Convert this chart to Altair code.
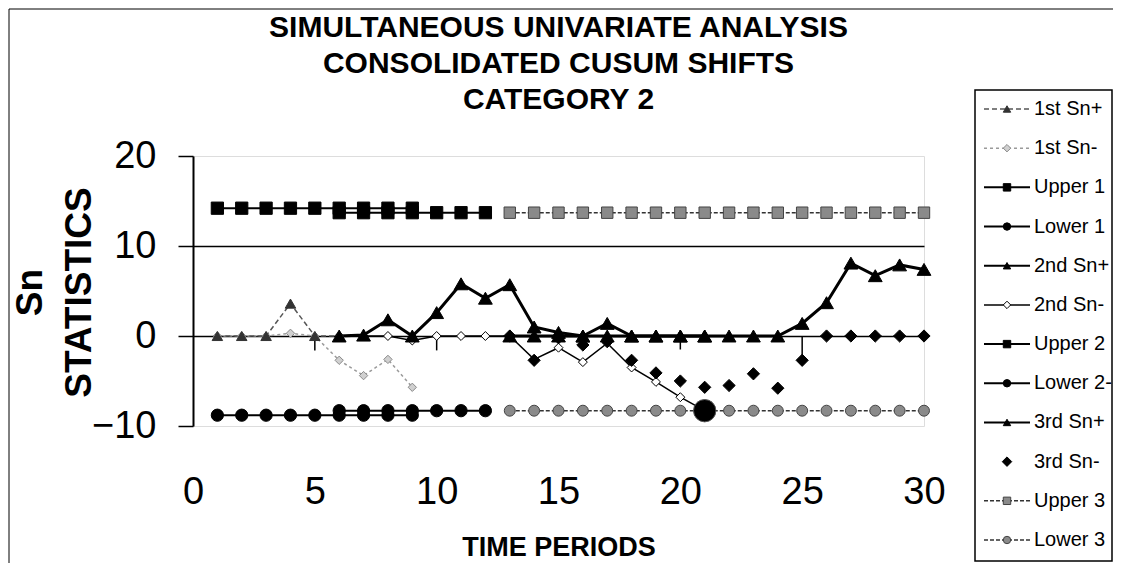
import altair as alt
import pandas as pd

# ------------------------------------------------------------------ data
series_names = ["1st Sn+", "1st Sn-", "Upper 1", "Lower 1", "2nd Sn+", "2nd Sn-",
                "Upper 2", "Lower 2-", "3rd Sn+", "3rd Sn-", "Upper 3", "Lower 3"]

periods_1 = [1, 2, 3, 4, 5, 6, 7, 8, 9]
sn1_plus = [0, 0, 0, 3.6, 0, 0, 0.1, 1.8, 0]
sn1_minus = [0, 0, 0, 0.3, 0, -2.7, -4.4, -2.6, -5.7]
upper_1 = [14.2, 14.2, 14.2, 14.2, 14.2, 14.2, 14.2, 14.2, 14.2]
lower_1 = [-8.8, -8.8, -8.8, -8.8, -8.8, -8.8, -8.8, -8.8, -8.8]

periods_2 = [6, 7, 8, 9, 10, 11, 12, 13, 14, 15, 16, 17, 18, 19, 20, 21]
sn2_plus = [0, 0.1, 1.8, 0, 2.6, 5.8, 4.2, 5.7, 1.0, 0.4, 0, 1.4, 0, 0, 0, 0]
sn2_minus = [0, 0, 0, -0.5, 0, 0, 0, 0, -2.6, -1.3, -2.9, -0.8, -3.5, -5.1, -6.8, -8.3]
periods_2_limits = [6, 7, 8, 9, 10, 11, 12]
upper_2 = [13.7, 13.7, 13.7, 13.7, 13.7, 13.7, 13.7]
lower_2 = [-8.3, -8.3, -8.3, -8.3, -8.3, -8.3, -8.3]

periods_3 = [13, 14, 15, 16, 17, 18, 19, 20, 21, 22, 23, 24, 25, 26, 27, 28, 29, 30]
sn3_plus = [0, 0, 0, 0, 0, 0, 0, 0, 0, 0, 0, 0, 1.4, 3.7, 8.1, 6.7, 7.9, 7.4]
sn3_minus = [0, -2.7, -0.2, -1.0, -0.6, -2.7, -4.1, -5.0, -5.7, -5.5, -4.2, -5.8, -2.7, 0, 0, 0, 0, 0]
upper_3 = [13.7, 13.7, 13.7, 13.7, 13.7, 13.7, 13.7, 13.7, 13.7,
           13.7, 13.7, 13.7, 13.7, 13.7, 13.7, 13.7, 13.7, 13.7]
lower_3 = [-8.3, -8.3, -8.3, -8.3, -8.3, -8.3, -8.3, -8.3, -8.3,
           -8.3, -8.3, -8.3, -8.3, -8.3, -8.3, -8.3, -8.3, -8.3]

signal_period = [21]
signal_value = [-8.3]

drop_periods = [5, 10, 20, 25]
drop_top = [0, 0, 0, 0]
drop_bottom = [-1.6, -1.6, -1.5, -2.5]

x_ticks = [0, 5, 10, 15, 20, 25, 30]
y_ticks = [-10, 0, 10, 20]

series_data = {
    "1st Sn+": (periods_1, sn1_plus),
    "1st Sn-": (periods_1, sn1_minus),
    "Upper 1": (periods_1, upper_1),
    "Lower 1": (periods_1, lower_1),
    "2nd Sn+": (periods_2, sn2_plus),
    "2nd Sn-": (periods_2, sn2_minus),
    "Upper 2": (periods_2_limits, upper_2),
    "Lower 2-": (periods_2_limits, lower_2),
    "3rd Sn+": (periods_3, sn3_plus),
    "3rd Sn-": (periods_3, sn3_minus),
    "Upper 3": (periods_3, upper_3),
    "Lower 3": (periods_3, lower_3),
}

# ------------------------------------------------------------------ styles
STY = {
    "1st Sn+": dict(line="#555555", width=1.5, dash=[5, 3], shape="triangle-up", fill="#333333", stroke="#333333", size=110),
    "1st Sn-": dict(line="#9a9a9a", width=1.5, dash=[3, 3], shape="diamond", fill="#d0d0d0", stroke="#8a8a8a", size=70),
    "Upper 1": dict(line="black", width=2, dash=None, shape="square", fill="black", stroke="black", size=150),
    "Lower 1": dict(line="black", width=2, dash=None, shape="circle", fill="black", stroke="black", size=150),
    "2nd Sn+": dict(line="black", width=3, dash=None, shape="triangle-up", fill="black", stroke="black", size=190),
    "2nd Sn-": dict(line="black", width=1.5, dash=None, shape="diamond", fill="white", stroke="black", size=80),
    "Upper 2": dict(line="black", width=2, dash=None, shape="square", fill="black", stroke="black", size=150),
    "Lower 2-": dict(line="black", width=2, dash=None, shape="circle", fill="black", stroke="black", size=150),
    "3rd Sn+": dict(line="black", width=3, dash=None, shape="triangle-up", fill="black", stroke="black", size=190),
    "3rd Sn-": dict(line=None, width=0, dash=None, shape="diamond", fill="black", stroke="black", size=150),
    "Upper 3": dict(line="#333333", width=1.5, dash=[4, 2], shape="square", fill="#8a8a8a", stroke="#444444", size=130),
    "Lower 3": dict(line="#333333", width=1.5, dash=[4, 2], shape="circle", fill="#8a8a8a", stroke="#444444", size=120),
}
draw_order = ["1st Sn-", "1st Sn+", "Upper 3", "Lower 3", "Upper 1", "Lower 1", "Upper 2",
              "Lower 2-", "2nd Sn-", "2nd Sn+", "3rd Sn+", "3rd Sn-"]

FONT = "Liberation Sans, Arial, Helvetica, sans-serif"

# ------------------------------------------------------------------ scales / axes
x_axis = alt.Axis(values=x_ticks, title="TIME PERIODS", ticks=False, domain=False, grid=False,
                  labelFont=FONT, labelFontSize=38, labelColor="black", labelPadding=47,
                  labelFlush=False, labelOverlap=False,
                  titleFont=FONT, titleFontSize=27, titleFontWeight="bold", titleColor="black",
                  titleY=121, titleBaseline="middle")
y_axis = alt.Axis(values=y_ticks, title=["Sn", "STATISTICS"],
                  labelFont=FONT, labelFontSize=38, labelColor="black", labelPadding=22,
                  labelFlush=False, labelOverlap=False,
                  tickSize=15, tickColor="black", tickWidth=1.5,
                  domainColor="black", domainWidth=2,
                  grid=True, gridColor="black", gridWidth=1.4,
                  gridOpacity={"condition": {"test": "datum.value === 20 || datum.value === -10", "value": 0}, "value": 1},
                  titleFont=FONT, titleFontSize=37, titleFontWeight="bold", titleColor="black",
                  titleAngle=270, titleX=-163, titleY=136, titleAlign="center", titleBaseline="middle",
                  titleLineHeight=49)

X = alt.X("period:Q", scale=alt.Scale(domain=[0, 30], nice=False, zero=False), axis=x_axis)
Y = alt.Y("value:Q", scale=alt.Scale(domain=[-10, 20], nice=False, zero=False), axis=y_axis)


def frame(name):
    xs, ys = series_data[name]
    return pd.DataFrame({"period": xs, "value": ys, "series": name})


main_layers = []
drops = pd.DataFrame({"period": drop_periods, "value": drop_top, "bottom": drop_bottom})
main_layers.append(alt.Chart(drops).mark_rule(color="black", strokeWidth=1.5).encode(
    x=X, y=Y, y2=alt.Y2("bottom:Q")))

for name in draw_order:
    s = STY[name]
    if s["line"] is None:
        continue
    kw = dict(color=s["line"], strokeWidth=s["width"])
    if s["dash"]:
        kw["strokeDash"] = s["dash"]
    main_layers.append(alt.Chart(frame(name)).mark_line(**kw).encode(x=X, y=Y, order="period:Q"))

for name in draw_order:
    s = STY[name]
    main_layers.append(alt.Chart(frame(name)).mark_point(
        shape=s["shape"], filled=True, fill=s["fill"], stroke=s["stroke"], strokeWidth=1,
        size=s["size"], opacity=1).encode(x=X, y=Y))

signal = pd.DataFrame({"period": signal_period, "value": signal_value})
main_layers.append(alt.Chart(signal).mark_point(
    shape="circle", filled=True, fill="black", stroke="#555555", strokeWidth=1,
    size=500, opacity=1).encode(x=X, y=Y))

main = alt.layer(*main_layers)

# ------------------------------------------------------------------ legend + outer frame
LEG_TOP, LEG_BOTTOM = -47, 384
leg_y = alt.Y("series:N", scale=alt.Scale(type="point", domain=series_names,
                                          range=[LEG_TOP, LEG_BOTTOM], padding=0), axis=None)
one_row = pd.DataFrame({"k": [0]})

legend_layers = [
    # outer chart frame (partly beyond the page edge, like the scanned original)
    alt.Chart(one_row).mark_rect(fill=None, stroke="black", strokeWidth=1).encode(
        x=alt.value(-184), x2=alt.value(960), y=alt.value(-147), y2=alt.value(460)),
    alt.Chart(one_row).mark_rect(fill="white", stroke="black", strokeWidth=1.5).encode(
        x=alt.value(782), x2=alt.value(919), y=alt.value(-66), y2=alt.value(405)),
]
for name in series_names:
    s = STY[name]
    one = pd.DataFrame({"series": [name]})
    if s["line"] is not None:
        kw = dict(color=s["line"], strokeWidth=min(s["width"], 2))
        if s["dash"]:
            kw["strokeDash"] = s["dash"]
        legend_layers.append(alt.Chart(one).mark_rule(**kw).encode(
            y=leg_y, x=alt.value(791), x2=alt.value(837)))
    legend_layers.append(alt.Chart(one).mark_point(
        shape=s["shape"], filled=True, fill=s["fill"], stroke=s["stroke"], strokeWidth=1,
        size=55 if name != "3rd Sn-" else 90, opacity=1).encode(y=leg_y, x=alt.value(814)))

legend_layers.append(alt.Chart(pd.DataFrame({"series": series_names})).mark_text(
    align="left", baseline="middle", fontSize=20, font=FONT, color="black").encode(
    y=leg_y, x=alt.value(841), text="series:N"))

legend = alt.layer(*legend_layers)

chart = alt.layer(main, legend).resolve_scale(y="independent").properties(
    width=731, height=270,
    autosize=alt.AutoSizeParams(type="none"),
    padding={"left": 185, "top": 148, "right": 189, "bottom": 137},
    title=alt.TitleParams(
        text=["SIMULTANEOUS UNIVARIATE ANALYSIS", "CONSOLIDATED CUSUM SHIFTS", "CATEGORY 2"],
        font=FONT, fontSize=30, fontWeight="bold", color="black", anchor="middle",
        frame="group", lineHeight=36, baseline="bottom", offset=0, dy=136),
).configure_view(stroke="black", strokeDash=[2, 2], strokeWidth=1.2).configure(background="white")

chart.save("out.html", embed_options={"renderer": "svg", "actions": False})
